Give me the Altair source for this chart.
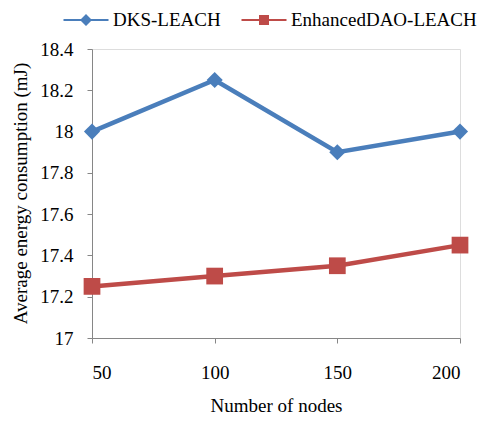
import altair as alt
import pandas as pd

nodes = [50, 100, 150, 200]
dks = [18.0, 18.25, 17.9, 18.0]
enh = [17.25, 17.3, 17.35, 17.45]
series_names = ["DKS-LEACH", "EnhancedDAO-LEACH"]
colors = ["#4A7EBB", "#BE4B48"]
y_ticks = [17, 17.2, 17.4, 17.6, 17.8, 18, 18.2, 18.4]

rows = []
for n, a, b in zip(nodes, dks, enh):
    rows.append({"nodes": n, "value": a, "series": series_names[0]})
    rows.append({"nodes": n, "value": b, "series": series_names[1]})
df = pd.DataFrame(rows)

FONT = "Liberation Serif"
FS = 19

x = alt.X("nodes:Q", scale=alt.Scale(domain=[50, 200], nice=False, zero=False),
          axis=alt.Axis(values=nodes, format="d", grid=False, title="Number of nodes",
                        domainColor="#868686", tickColor="#868686", tickSize=5,
                        labelPadding=20, labelColor="black", labelFont=FONT, labelFontSize=FS,
                        titleFont=FONT, titleFontSize=FS, titleFontWeight="normal",
                        titleColor="black", titleY=67, titleBaseline="middle"))
y = alt.Y("value:Q", scale=alt.Scale(domain=[17, 18.4], nice=False, zero=False),
          axis=alt.Axis(values=y_ticks, format="~g", grid=False,
                        title="Average energy consumption (mJ)",
                        domainColor="#868686", tickColor="#868686", tickSize=5,
                        labelPadding=14, labelColor="black", labelFont=FONT, labelFontSize=FS,
                        titleFont=FONT, titleFontSize=FS, titleFontWeight="normal",
                        titleColor="black", titleX=-72, titleY=144, titleBaseline="middle",
                        titleAngle=270))

color_scale = alt.Scale(domain=series_names, range=colors)

lines = alt.Chart(df).mark_line(strokeWidth=4.5).encode(
    x=x, y=y, color=alt.Color("series:N", scale=color_scale, legend=None))

points = alt.Chart(df).mark_point(filled=True, opacity=1, size=260).encode(
    x=x, y=y,
    color=alt.Color("series:N", scale=color_scale, legend=None),
    shape=alt.Shape("series:N", scale=alt.Scale(domain=series_names, range=["diamond", "square"]),
                    legend=None),
    size=alt.Size("series:N", scale=alt.Scale(domain=series_names, range=[260, 280]), legend=None))

leg_paths = [
    "M-2.25,-0.1H2.25V0.1H-2.25Z M0,-0.6L0.6,0L0,0.6L-0.6,0Z",
    "M-2.25,-0.1H2.25V0.1H-2.25Z M-0.5,-0.5H0.5V0.5H-0.5Z",
]

def make_legend():
    return alt.Legend(title=None, orient="none", direction="horizontal",
                      legendX=-16, legendY=-39, padding=0,
                      symbolSize=400, symbolStrokeWidth=0,
                      labelOffset=17, columnPadding=20, labelLimit=400,
                      labelFont=FONT, labelFontSize=FS, labelColor="black")

legend_layer = alt.Chart(df).transform_filter("false").mark_point(filled=True, opacity=1).encode(
    x=x, y=y,
    color=alt.Color("series:N", scale=alt.Scale(domain=series_names, range=colors),
                    legend=make_legend()),
    shape=alt.Shape("series:N", scale=alt.Scale(domain=series_names, range=leg_paths),
                    legend=make_legend()),
)

chart = alt.layer(lines, points, legend_layer).resolve_scale(
    shape="independent", color="independent", size="independent"
).properties(
    width=368, height=289,
    autosize=alt.AutoSizeParams(type="none"),
    padding={"left": 84, "top": 41, "right": 23, "bottom": 78},
).configure_view(stroke=None).configure(background="white")

chart.save("out.html", embed_options={"renderer": "svg", "actions": False})
